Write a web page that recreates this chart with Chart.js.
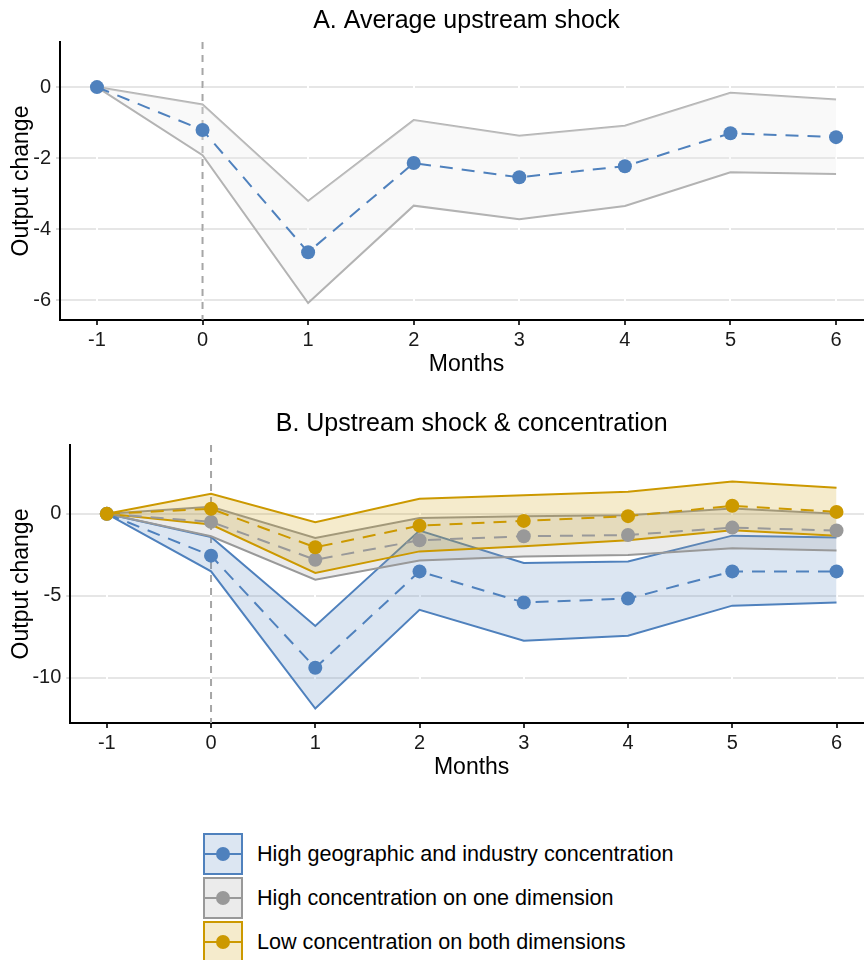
<!DOCTYPE html>
<html>
<head>
<meta charset="utf-8">
<script src="https://cdn.jsdelivr.net/npm/chart.js@4"></script>
<style>
  html, body { margin: 0; padding: 0; background: #fff; overflow: hidden; }
  body { width: 864px; height: 960px; position: relative; font-family: Arial, "Liberation Sans", sans-serif; }
  .panel { position: absolute; left: 0; width: 880px; height: 380px; }
  #legend { position: absolute; left: 203px; top: 833px; }
  .row { position: relative; height: 44px; }
  .key { position: absolute; left: 0; top: 0; width: 36px; height: 38px; border: 2px solid; }
  .key .ln { position: absolute; left: 0; right: 0; top: 18px; height: 2px; }
  .key .pt { position: absolute; left: 11px; top: 12px; width: 14px; height: 14px; border-radius: 50%; }
  .row span { position: absolute; left: 54px; top: 8px; font-size: 21.6px; color: #000; white-space: nowrap; }
</style>
</head>
<body>
<div class="panel" style="top:0"><canvas id="chartA" width="880" height="380"></canvas></div>
<div class="panel" style="top:403px"><canvas id="chartB" width="880" height="380"></canvas></div>
<div id="legend"></div>
<script>
// months after the shock
const months = [-1, 0, 1, 2, 3, 4, 5, 6];

// Panel A: average upstream shock
const avgMean  = [0, -1.21, -4.65, -2.14, -2.54, -2.23, -1.30, -1.41];
const avgUpper = [0, -0.49, -3.21, -0.93, -1.37, -1.09, -0.16, -0.35];
const avgLower = [0, -1.92, -6.08, -3.34, -3.72, -3.35, -2.40, -2.45];
const yTicksA = [-6, -4, -2, 0];

// Panel B: by concentration group
const highMean  = [0, -2.55, -9.39, -3.51, -5.41, -5.17, -3.51, -3.51];
const highUpper = [0, -1.41, -6.84, -1.02, -3.00, -2.90, -1.33, -1.45];
const highLower = [0, -3.51, -11.88, -5.86, -7.74, -7.43, -5.60, -5.41];

const oneMean  = [0, -0.49, -2.80, -1.61, -1.37, -1.29, -0.84, -1.02];
const oneUpper = [0, 0.43, -1.47, -0.25, -0.14, -0.08, 0.32, 0.00];
const oneLower = [0, -1.37, -4.02, -2.84, -2.60, -2.51, -2.10, -2.23];

const lowMean  = [0, 0.31, -2.04, -0.72, -0.43, -0.14, 0.49, 0.12];
const lowUpper = [0, 1.22, -0.51, 0.92, 1.14, 1.35, 1.98, 1.59];
const lowLower = [0, -0.65, -3.61, -2.29, -1.98, -1.61, -1.00, -1.33];
const yTicksB = [-10, -5, 0];

const groupNames = [
    'High geographic and industry concentration',
    'High concentration on one dimension',
    'Low concentration on both dimensions'
];

const BLUE = '#4f81bd', GREY = '#999999', GOLD = '#cc9900';
const FONT = 'Arial, "Liberation Sans", sans-serif';

const pts = arr => arr.map((v, i) => ({ x: months[i], y: v }));

const bandLine = (data, color, order, fill, bg) => ({
    data: pts(data),
    borderColor: color,
    borderWidth: 2,
    pointRadius: 0,
    fill: fill,
    backgroundColor: bg,
    order: order
});
const meanLine = (data, color, order) => ({
    data: pts(data),
    borderColor: color,
    backgroundColor: color,
    borderWidth: 2,
    borderDash: [13, 9],
    pointRadius: 7,
    pointBorderWidth: 0,
    fill: false,
    order: order
});

// dashed vertical line at month 0, under the data
const zeroLine = {
    id: 'zeroLine',
    beforeDatasetsDraw(chart) {
        const { ctx, chartArea, scales } = chart;
        const x = scales.x.getPixelForValue(0);
        ctx.save();
        ctx.strokeStyle = '#a6a6a6';
        ctx.lineWidth = 2;
        ctx.setLineDash([7, 6]);
        ctx.beginPath();
        ctx.moveTo(x, chartArea.top);
        ctx.lineTo(x, chartArea.bottom);
        ctx.stroke();
        ctx.restore();
    }
};

const makeOptions = (title, yMin, yMax, yTicks, yWidth) => ({
    responsive: false,
    animation: false,
    layout: { padding: 0 },
    plugins: {
        legend: { display: false },
        tooltip: { enabled: false },
        title: {
            display: true,
            text: title,
            fullSize: false,
            color: '#000',
            font: { family: FONT, size: 25, weight: 'normal', lineHeight: 1.2 },
            padding: { top: 6, bottom: 6 }
        }
    },
    scales: {
        x: {
            type: 'linear',
            min: -1.35,
            max: 6.35,
            afterBuildTicks: s => { s.ticks = months.map(v => ({ value: v })); },
            afterFit: s => { s.height = 60; },
            grid: { color: '#ffffff', lineWidth: 2, tickColor: '#333', tickLength: 5, z: 0 },
            border: { color: '#000', width: 2 },
            ticks: { color: '#1a1a1a', font: { family: FONT, size: 20 }, padding: 3, maxRotation: 0 },
            title: { display: true, text: 'Months', color: '#000', font: { family: FONT, size: 23 }, padding: { top: 0, bottom: 2 } }
        },
        y: {
            min: yMin,
            max: yMax,
            afterBuildTicks: s => { s.ticks = yTicks.map(v => ({ value: v })); },
            afterFit: s => { s.width = yWidth; },
            grid: { color: '#e6e6e6', lineWidth: 2, tickColor: '#d9d9d9', tickLength: 4, z: -1 },
            border: { color: '#000', width: 2 },
            ticks: { color: '#1a1a1a', font: { family: FONT, size: 20 }, padding: 5 },
            title: { display: true, text: 'Output change', color: '#000', font: { family: FONT, size: 23 }, padding: { top: 8, bottom: 0 } }
        }
    }
});

new Chart(document.getElementById('chartA'), {
    type: 'line',
    data: {
        datasets: [
            bandLine(avgUpper, '#b3b3b3', 3, false),
            bandLine(avgLower, '#b3b3b3', 2, '-1', 'rgba(235,235,235,0.3)'),
            meanLine(avgMean, BLUE, 1)
        ]
    },
    options: makeOptions('A. Average upstream shock', -6.56, 1.27, yTicksA, 60),
    plugins: [zeroLine]
});

// ribbons first (blue, grey, gold), then the mean lines on top
new Chart(document.getElementById('chartB'), {
    type: 'line',
    data: {
        datasets: [
            bandLine(highUpper, BLUE, 9, false),
            bandLine(highLower, BLUE, 8, '-1', 'rgba(79,129,189,0.2)'),
            meanLine(highMean, BLUE, 3),
            bandLine(oneUpper, GREY, 7, false),
            bandLine(oneLower, GREY, 6, '-1', 'rgba(153,153,153,0.2)'),
            meanLine(oneMean, GREY, 2),
            bandLine(lowUpper, GOLD, 5, false),
            bandLine(lowLower, GOLD, 4, '-1', 'rgba(204,153,0,0.2)'),
            meanLine(lowMean, GOLD, 1)
        ]
    },
    options: makeOptions('B. Upstream shock & concentration', -12.76, 4.2, yTicksB, 70.3),
    plugins: [zeroLine]
});

// legend below the charts
const legendColors = [
    { line: BLUE, fill: 'rgba(79,129,189,0.2)' },
    { line: GREY, fill: 'rgba(153,153,153,0.2)' },
    { line: GOLD, fill: 'rgba(204,153,0,0.2)' }
];
document.getElementById('legend').innerHTML = groupNames.map((name, i) => `
    <div class="row">
        <div class="key" style="border-color:${legendColors[i].line};background:${legendColors[i].fill}">
            <div class="ln" style="background:${legendColors[i].line}"></div>
            <div class="pt" style="background:${legendColors[i].line}"></div>
        </div>
        <span>${name}</span>
    </div>
`).join('');
</script>
</body>
</html>
